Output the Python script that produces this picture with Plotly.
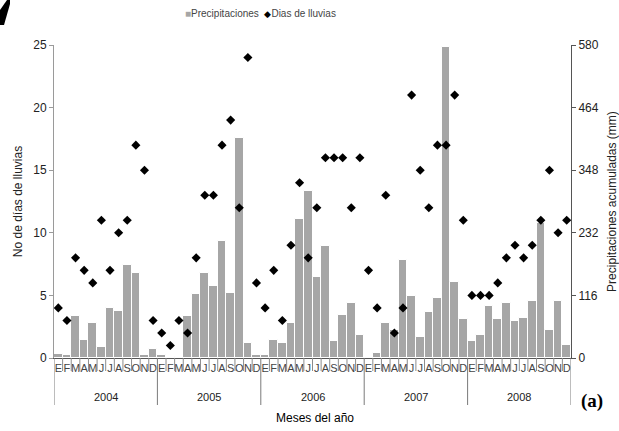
import plotly.graph_objects as go

# Monthly series 2004-2008
years = ["2004", "2005", "2006", "2007", "2008"]
month_letters = ["E", "F", "M", "A", "M", "J", "J", "A", "S", "O", "N", "D"]

# Accumulated monthly precipitation (mm)
precip_2004 = [8, 6, 78, 33, 64, 20, 93, 88, 173, 158, 5, 17]
precip_2005 = [5, 0, 2, 77, 119, 158, 133, 217, 120, 407, 28, 5]
precip_2006 = [5, 34, 27, 64, 257, 310, 151, 208, 31, 80, 102, 43]
precip_2007 = [0, 9, 64, 52, 182, 115, 39, 86, 111, 576, 140, 73]
precip_2008 = [31, 43, 97, 72, 102, 69, 75, 106, 250, 52, 106, 25]

# Number of rainy days per month
days_2004 = [4, 3, 8, 7, 6, 11, 7, 10, 11, 17, 15, 3]
days_2005 = [2, 1, 3, 2, 8, 13, 13, 17, 19, 12, 24, 6]
days_2006 = [4, 7, 3, 9, 14, 8, 12, 16, 16, 16, 12, 16]
days_2007 = [7, 4, 13, 2, 4, 21, 15, 12, 17, 17, 21, 11]
days_2008 = [5, 5, 5, 6, 8, 9, 8, 9, 11, 15, 10, 11]

precip = precip_2004 + precip_2005 + precip_2006 + precip_2007 + precip_2008
days = days_2004 + days_2005 + days_2006 + days_2007 + days_2008
n = len(precip)
xs = list(range(1, n + 1))
labels = month_letters * len(years)

right_ticks = [0, 116, 232, 348, 464, 580]
left_ticks = [0, 5, 10, 15, 20, 25]

BAR_COLOR = "#a6a6a6"

W, H = 619, 431
L, R, T, B = 54, 48, 45, 73
pw, ph = W - L - R, H - T - B


def px(x, y):
    """Pixel position -> paper coordinates of the plot area."""
    return (x - L) / pw, (H - B - y) / ph


FONT = "Liberation Sans, Arial, sans-serif"

fig = go.Figure()

fig.add_trace(go.Bar(
    x=xs, y=precip, name="Precipitaciones",
    marker=dict(color=BAR_COLOR, line=dict(color="white", width=1)),
    yaxis="y",
))
fig.add_trace(go.Scatter(
    x=xs, y=days, name="Dias de lluvias", mode="markers",
    marker=dict(symbol="diamond", size=7, color="black"),
    yaxis="y2",
))

shapes = []
# month separators below the axis, longer at year boundaries
for k in range(n + 1):
    year_edge = k % 12 == 0
    depth = 47 if year_edge else 13
    shapes.append(dict(
        type="line", xref="x", yref="paper",
        x0=k + 0.5, x1=k + 0.5, y0=0, y1=-depth / ph,
        line=dict(color="#7a7a7a" if year_edge else "#8c8c8c", width=1),
    ))

# dark mark at the upper left corner
pts = [(0, 10), (7, 0), (10, 0), (10, 4), (4, 25), (0, 25)]
path = "M " + " L ".join("{:.4f},{:.4f}".format(*px(a, b)) for a, b in pts) + " Z"
shapes.append(dict(type="path", xref="paper", yref="paper", path=path,
                   fillcolor="black", line=dict(width=0)))

annotations = []
for i, yr in enumerate(years):
    annotations.append(dict(
        x=6.5 + 12 * i, y=px(0, 397)[1], xref="x", yref="paper",
        text=yr, showarrow=False, font=dict(family=FONT, size=11, color="#222"),
        xanchor="center", yanchor="middle",
    ))
annotations.append(dict(
    x=px(315, 0)[0], y=px(0, 418)[1], xref="paper", yref="paper",
    text="Meses del año", showarrow=False,
    font=dict(family=FONT, size=12, color="black"),
    xanchor="center", yanchor="middle",
))
annotations.append(dict(
    x=px(592, 0)[0], y=px(0, 401)[1], xref="paper", yref="paper",
    text="<b>(a)</b>", showarrow=False,
    font=dict(family="Liberation Serif, Times New Roman, serif", size=19, color="black"),
    xanchor="center", yanchor="middle",
))
# compact legend line
legend_text = (
    "<span style='color:{0};font-size:10px'>■</span>Precipitaciones&nbsp;&nbsp;"
    "<span style='color:black;font-size:9px'>◆</span>Dias de lluvias"
).format(BAR_COLOR)
annotations.append(dict(
    x=px(183, 0)[0], y=px(0, 14)[1], xref="paper", yref="paper",
    text=legend_text, showarrow=False,
    font=dict(family=FONT, size=10, color="#444"),
    xanchor="left", yanchor="middle",
))

fig.update_layout(
    width=W, height=H,
    margin=dict(l=L, r=R, t=T, b=B, pad=0, autoexpand=False),
    paper_bgcolor="white", plot_bgcolor="white",
    bargap=0,
    showlegend=False,
    xaxis=dict(
        range=[0.5, n + 0.5], tickmode="array", tickvals=xs, ticktext=labels,
        ticks="", showgrid=False, zeroline=False, automargin=False,
        showline=True, linecolor="#555", linewidth=1,
        tickfont=dict(family=FONT, size=11, color="#444"),
        tickangle=0,
    ),
    yaxis=dict(
        side="right", range=[0, 580], tickmode="array", tickvals=right_ticks,
        showgrid=False, zeroline=False, showline=True, linecolor="#555",
        linewidth=1, ticks="outside", ticklen=4, tickcolor="#555",
        automargin=False,
        tickfont=dict(family=FONT, size=12, color="#222"),
        title=dict(text="Precipitaciones acumuladas (mm)",
                   font=dict(family=FONT, size=12, color="#222"), standoff=16),
    ),
    yaxis2=dict(
        side="left", overlaying="y", range=[0, 25], tickmode="array",
        tickvals=left_ticks, showgrid=False, zeroline=False, showline=True,
        linecolor="#9a9a9a", linewidth=1, ticks="outside", ticklen=4,
        tickcolor="#9a9a9a", automargin=False,
        tickfont=dict(family=FONT, size=12, color="#222"),
        title=dict(text="No de días de lluvias",
                   font=dict(family=FONT, size=12, color="#222"), standoff=8),
    ),
    shapes=shapes,
    annotations=annotations,
)

fig.write_html("out.html")
